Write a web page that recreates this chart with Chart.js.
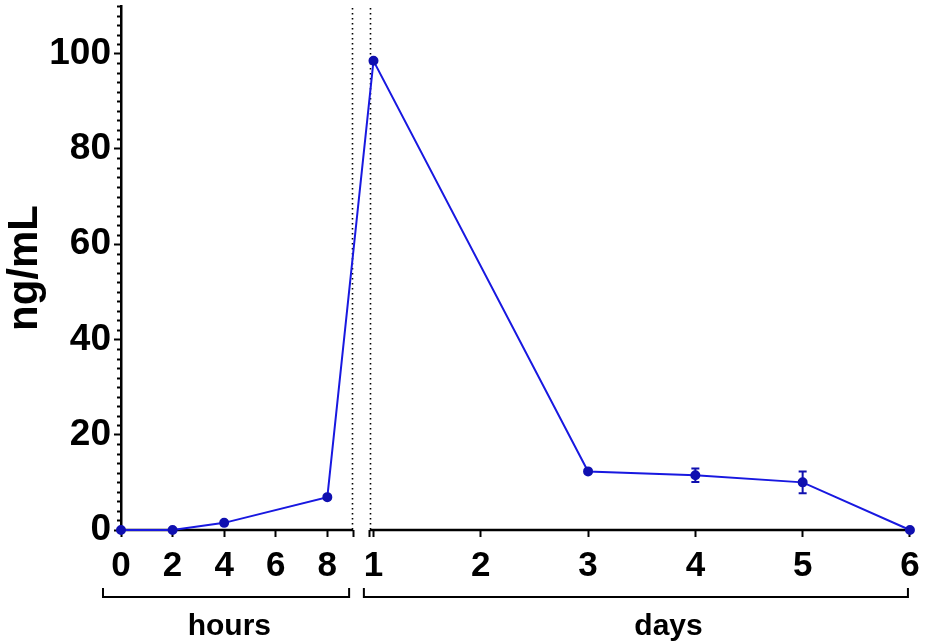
<!DOCTYPE html>
<html>
<head>
<meta charset="utf-8">
<script src="https://cdn.jsdelivr.net/npm/chart.js@4/dist/chart.umd.min.js"></script>
<style>
  html, body { margin: 0; padding: 0; background: #fff; }
  #wrap { width: 933px; height: 644px; }
</style>
</head>
<body>
<div id="wrap"><canvas id="chart" width="933" height="644"></canvas></div>
<script>
// time points and concentrations (ng/mL)
const hours = [0, 2, 4, 8];
const hourValues = [0, 0, 1.5, 6.9];
const days = [1, 3, 4, 5, 6];
const dayValues = [98.5, 12.3, 11.5, 10.0, 0];
const dayErrors = [0, 0, 1.4, 2.3, 0];

// tick labels
const hourTicks = [0, 2, 4, 6, 8];
const dayTicks = [1, 2, 3, 4, 5, 6];
const yTicks = [0, 20, 40, 60, 80, 100];

// broken axis: days are placed after the hours segment on the same linear scale
const HOURS_END = 9.0;
const DAYS_START = 9.65;
const DAY_OFFSET = 9.79;
const HOURS_PER_DAY = 4.16;
const X_MAX = 30.67;
const Y_MAX = 110;

const dayPos = d => DAY_OFFSET + (d - 1) * HOURS_PER_DAY;

const points = hours.map((h, i) => ({ x: h, y: hourValues[i], err: 0 }))
    .concat(days.map((d, i) => ({ x: dayPos(d), y: dayValues[i], err: dayErrors[i] })));

const tickLabels = new Map();
hourTicks.forEach(h => tickLabels.set(h, String(h)));
dayTicks.forEach(d => tickLabels.set(dayPos(d), String(d)));

const FONT = '"Liberation Sans", Arial, sans-serif';
const LINE_BLUE = "#1818e0";
const POINT_BLUE = "#1010b0";

Chart.defaults.font.family = FONT;
Chart.defaults.color = "#000";

// dotted break lines, split x axis, minor y ticks
const axisPlugin = {
    id: "brokenAxis",
    beforeDatasetsDraw(chart) {
        const { ctx, chartArea, scales: { x, y } } = chart;
        ctx.save();
        ctx.strokeStyle = "#000";

        // dotted break lines
        ctx.lineWidth = 1.6;
        ctx.setLineDash([1.6, 3.4]);
        [8.96, DAYS_START].forEach(v => {
            const px = Math.round(x.getPixelForValue(v)) + 0.5;
            ctx.beginPath();
            ctx.moveTo(px, chartArea.top + 2);
            ctx.lineTo(px, chartArea.bottom + 2);
            ctx.stroke();
        });
        ctx.setLineDash([]);

        // x axis segments
        ctx.lineWidth = 2.5;
        const yb = y.getPixelForValue(0);
        ctx.beginPath();
        ctx.moveTo(x.getPixelForValue(0) - 1, yb);
        ctx.lineTo(x.getPixelForValue(HOURS_END), yb);
        ctx.moveTo(x.getPixelForValue(DAYS_START), yb);
        ctx.lineTo(chartArea.right, yb);
        ctx.stroke();

        // minor y ticks
        ctx.lineWidth = 2;
        for (let v = 2; v <= Y_MAX; v += 2) {
            if (v % 20 === 0) continue;
            const py = Math.round(y.getPixelForValue(v)) + 0.5;
            ctx.beginPath();
            ctx.moveTo(chartArea.left, py);
            ctx.lineTo(chartArea.left - 4, py);
            ctx.stroke();
        }
        ctx.restore();
    },
    afterDatasetsDraw(chart) {
        const { ctx, scales: { x, y } } = chart;
        ctx.save();
        // error bars
        ctx.strokeStyle = POINT_BLUE;
        ctx.lineWidth = 2;
        points.forEach(p => {
            if (!p.err) return;
            const px = x.getPixelForValue(p.x);
            const top = y.getPixelForValue(p.y + p.err);
            const bot = y.getPixelForValue(p.y - p.err);
            ctx.beginPath();
            ctx.moveTo(px, top); ctx.lineTo(px, bot);
            ctx.moveTo(px - 4, top); ctx.lineTo(px + 4, top);
            ctx.moveTo(px - 4, bot); ctx.lineTo(px + 4, bot);
            ctx.stroke();
        });
        ctx.restore();
    },
    afterDraw(chart) {
        const { ctx, scales: { x } } = chart;
        ctx.save();
        ctx.strokeStyle = "#000";
        ctx.lineWidth = 2;

        // brackets under the axis
        const bracket = (l, r) => {
            ctx.beginPath();
            ctx.moveTo(l, 588);
            ctx.lineTo(l, 597);
            ctx.lineTo(r, 597);
            ctx.lineTo(r, 588);
            ctx.stroke();
        };
        bracket(x.getPixelForValue(0) - 18, x.getPixelForValue(HOURS_END) - 4);
        bracket(x.getPixelForValue(DAYS_START) - 6, x.getPixelForValue(dayPos(6)) - 2);

        ctx.fillStyle = "#000";
        ctx.font = "bold 30px " + FONT;
        ctx.textAlign = "center";
        ctx.textBaseline = "alphabetic";
        ctx.fillText("hours", x.getPixelForValue(4.2), 635);
        ctx.fillText("days", x.getPixelForValue(dayPos(3.75)), 635);
        ctx.restore();
    }
};

new Chart(document.getElementById("chart"), {
    type: "line",
    data: {
        datasets: [{
            data: points,
            borderColor: LINE_BLUE,
            borderWidth: 2,
            backgroundColor: POINT_BLUE,
            pointBackgroundColor: POINT_BLUE,
            pointBorderColor: POINT_BLUE,
            pointRadius: 4,
            tension: 0,
            clip: false
        }]
    },
    options: {
        responsive: false,
        animation: false,
        devicePixelRatio: 1,
        layout: { padding: { top: 3, right: 21, left: 0, bottom: 0 } },
        plugins: { legend: { display: false }, tooltip: { enabled: false } },
        scales: {
            x: {
                type: "linear",
                min: 0,
                max: X_MAX,
                border: { display: false },
                grid: { drawOnChartArea: false, drawTicks: true, tickLength: 7, tickWidth: 2, tickColor: "#000" },
                ticks: {
                    autoSkip: false,
                    maxRotation: 0,
                    padding: 8,
                    font: { size: 35, weight: "bold" },
                    callback: v => tickLabels.get(v) || ""
                },
                afterBuildTicks: scale => {
                    const vals = hourTicks.concat([HOURS_END, DAYS_START], dayTicks.map(dayPos));
                    scale.ticks = vals.map(v => ({ value: v }));
                },
                afterFit: scale => {
                    scale.height = 114;
                    scale.paddingLeft = 0;
                    scale.paddingRight = 0;
                }
            },
            y: {
                min: 0,
                max: Y_MAX,
                border: { display: true, color: "#000", width: 2.5 },
                grid: { drawOnChartArea: false, tickLength: 7, tickWidth: 2, tickColor: "#000" },
                ticks: {
                    padding: 3,
                    font: { size: 37, weight: "bold" }
                },
                afterBuildTicks: scale => {
                    scale.ticks = yTicks.map(v => ({ value: v }));
                },
                title: {
                    display: true,
                    text: "ng/mL",
                    font: { size: 42, weight: "bold" },
                    padding: 0
                },
                afterFit: scale => {
                    scale.width = 121;
                    scale.paddingTop = 0;
                    scale.paddingBottom = 0;
                }
            }
        }
    },
    plugins: [axisPlugin]
});
</script>
</body>
</html>
